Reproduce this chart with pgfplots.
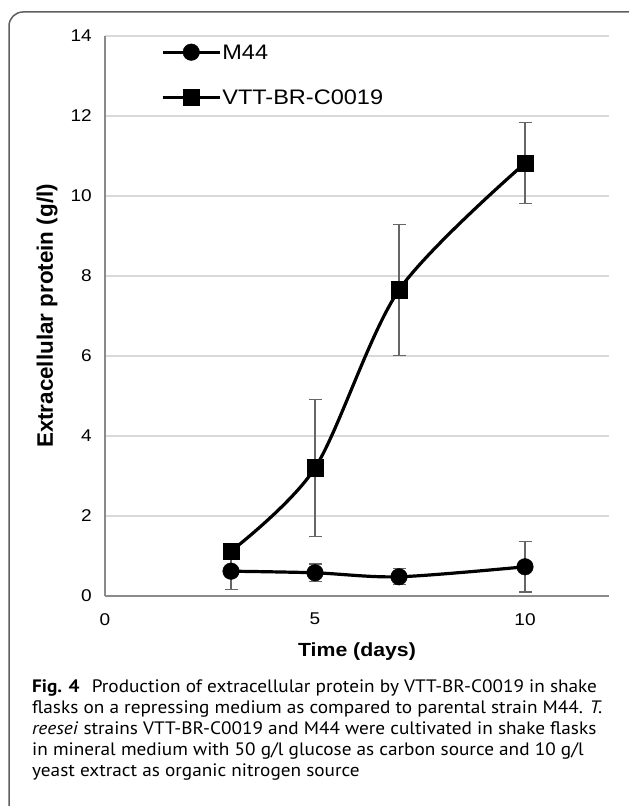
\documentclass[border=0pt]{standalone}
\usepackage{fontspec}
\setmainfont{Liberation Sans}
\newfontfamily\cf[FakeStretch=1.12]{Liberation Sans}
\newfontfamily\capfont[FakeStretch=1.07]{PT Sans}
\usepackage{pgfplots}
\pgfplotsset{compat=1.18}

\definecolor{axisgray}{HTML}{8A8A8A}
\definecolor{gridgray}{HTML}{D9D9D9}
\definecolor{errgray}{HTML}{666666}
\definecolor{bordergray}{HTML}{5F5F5F}

\begin{document}
\begin{tikzpicture}
\path[use as bounding box] (0,0) rectangle (629pt,806pt);
\draw[bordergray, line width=1.5pt, rounded corners=14pt] (9pt,-10pt) -- (9pt,794pt) -- (660pt,794pt);

\begin{axis}[
    at={(105pt,210pt)}, anchor=south west,
    scale only axis, width=504pt, height=560pt,
    xmin=0, xmax=12, ymin=0, ymax=14,
    xtick={0,5,10}, ytick={0,2,...,14},
    axis x line*=bottom, axis y line*=left,
    axis line style={color=axisgray, line width=1.3pt, -},
    major tick length=0pt,
    ymajorgrids, grid style={color=gridgray, line width=1.2pt},
    tick label style={font=\cf\fontsize{17}{20}\selectfont, inner sep=0pt},
    /pgf/number format/assume math mode=true,
    xticklabel style={yshift=-17pt},
    yticklabel style={xshift=-13pt},
    xlabel={\cf\fontsize{19}{22}\selectfont\bfseries Time (days)},
    ylabel={\fontsize{22.4}{26}\selectfont\bfseries Extracellular protein (g/l)},
    xlabel style={at={(axis description cs:0.5,0)}, anchor=base, yshift=-61pt},
    ylabel style={at={(axis description cs:0,0.5)}, anchor=base, yshift=52pt},
    legend style={draw=none, fill=none, inner sep=0pt, anchor=north west,
        at={(axis description cs:0.111,1)}, yshift=-7.5pt,
        row sep=28pt,
        nodes={inner sep=1pt, text height=15pt, text depth=0pt},
        font=\cf\fontsize{21}{24}\selectfont},
    legend cell align=left,
    legend image code/.code={
        \draw[mark repeat=2, mark phase=2] plot coordinates {(0pt,0pt) (28.5pt,0pt) (57pt,0pt)};
    },
]
% error bars first, so lines and markers lie on top
\addplot[draw=none, forget plot,
    error bars/.cd, y dir=both, y explicit,
    error bar style={draw=errgray, line width=1.2pt},
    error mark options={rotate=90, draw=errgray, mark size=6.5pt, line width=1.2pt}]
    coordinates {(3,0.62) +- (0,0.45) (5,0.58) +- (0,0.22) (7,0.48) +- (0,0.2) (10,0.73) +- (0,0.63)};
\addplot[draw=none, forget plot,
    error bars/.cd, y dir=both, y explicit,
    error bar style={draw=errgray, line width=1.2pt},
    error mark options={rotate=90, draw=errgray, mark size=6.5pt, line width=1.2pt}]
    coordinates {(3,1.12) +- (0,0.1) (5,3.2) +- (0,1.72) (7,7.65) +- (0,1.64) (10,10.82) +- (0,1.01)};

\addplot[black, line width=3.2pt, smooth, mark=*, mark size=8.3pt, mark options={solid, line width=0.4pt}]
    coordinates {(3,0.62) (5,0.58) (7,0.48) (10,0.73)};
\addlegendentry{M44}
\addplot[black, line width=3.2pt, smooth, mark=square*, mark size=8.3pt, mark options={solid, line width=0.4pt}]
    coordinates {(3,1.12) (5,3.2) (7,7.65) (10,10.82)};
\addlegendentry{VTT-BR-C0019}
\end{axis}

\begin{scope}[every node/.style={anchor=base west, inner sep=0pt, font=\capfont\fontsize{18}{21}\selectfont}]
\node at (32pt,113pt) {\textbf{Fig. 4}\hspace{7pt} Production of extracellular protein by VTT-BR-C0019 in shake};
\node at (32pt,92pt) {flasks on a repressing medium as compared to parental strain M44. \textit{T.}};
\node at (32pt,71pt) {\textit{reesei} strains VTT-BR-C0019 and M44 were cultivated in shake flasks};
\node at (32pt,50pt) {in mineral medium with 50 g/l glucose as carbon source and 10 g/l};
\node at (32pt,29pt) {yeast extract as organic nitrogen source};
\end{scope}
\end{tikzpicture}
\end{document}
